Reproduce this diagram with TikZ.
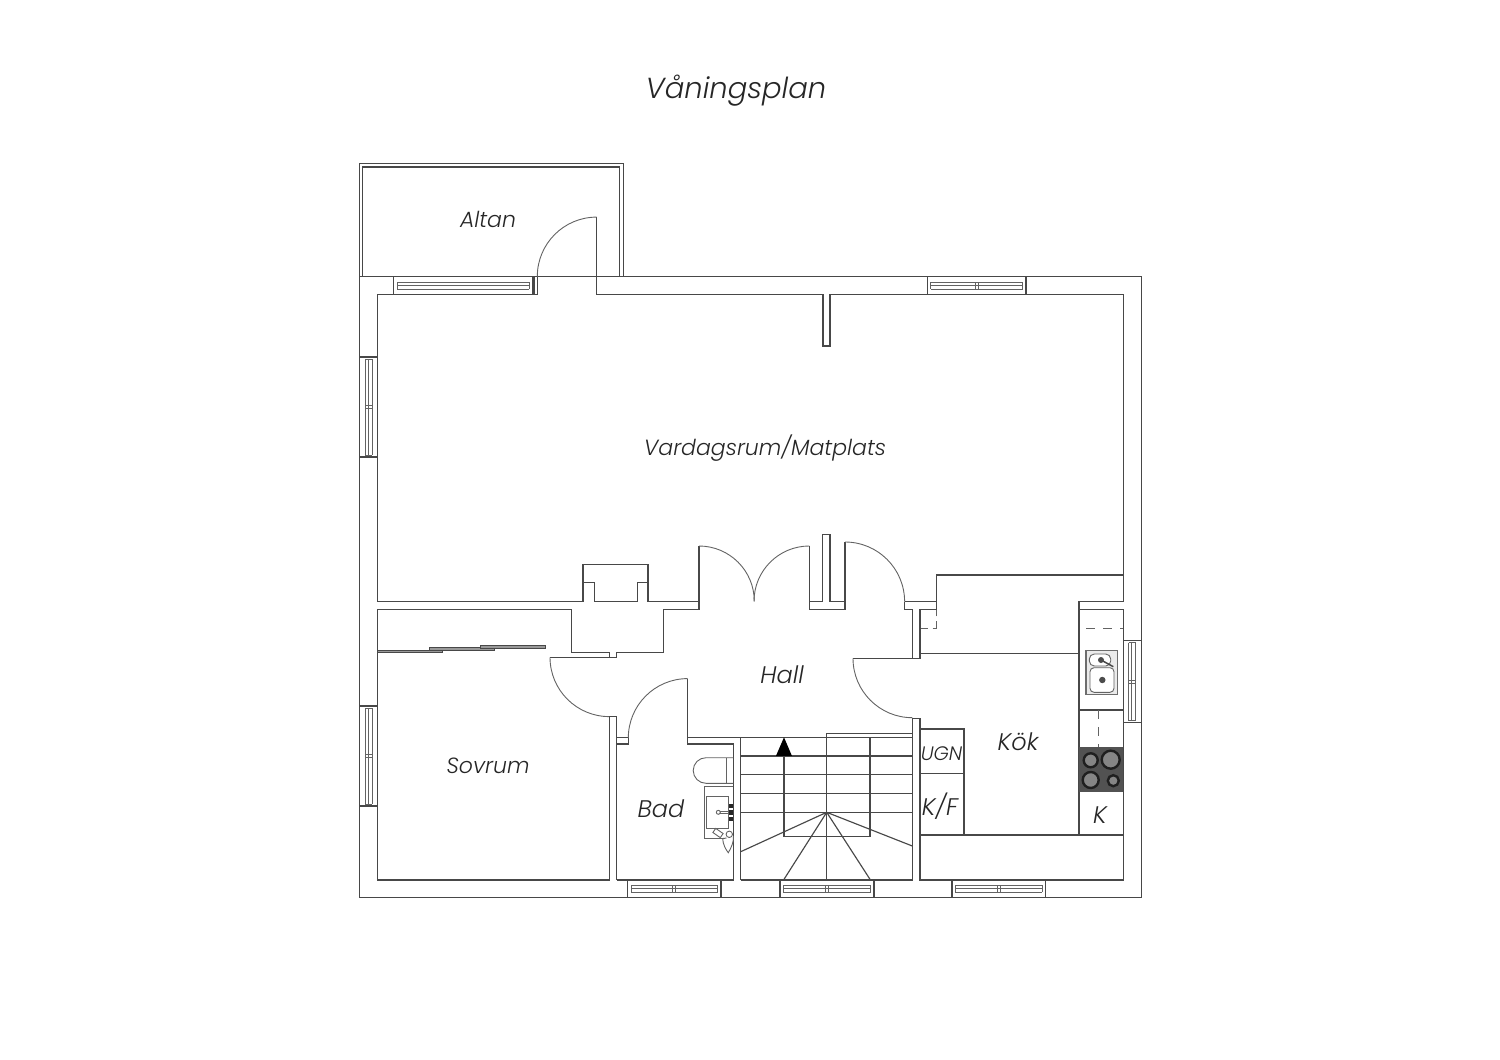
\documentclass[tikz,border=0pt]{standalone}
\usepackage{fontspec}
\newfontfamily\lbl[UprightFont=* Light Italic]{Poppins}
\newcommand{\hwinbody}[3]{% x1,x2,ytop
  \draw[wall] (#1,#3) -- (#1,#3+18) (#2,#3) -- (#2,#3+18);
  \draw[thin line] (#1+3.3,#3+5.5) -- (#2-3.3,#3+5.5) (#1+3.3,#3+8.5) -- (#2-3.3,#3+8.5) (#1+3.3,#3+12.5) -- (#2-3.3,#3+12.5)
    (#1+3.3,#3+5.5) -- (#1+3.3,#3+12.5) (#2-3.3,#3+5.5) -- (#2-3.3,#3+12.5);}
\newcommand{\hwindow}[3]{% x1,x2,ytop
  \hwinbody{#1}{#2}{#3}
  \draw[thin line] ({(#1+#2)/2-1.5},#3+5.5) -- ({(#1+#2)/2-1.5},#3+12.5) ({(#1+#2)/2+1.5},#3+5.5) -- ({(#1+#2)/2+1.5},#3+12.5);}
\newcommand{\vwindow}[4]{% xleft,y1,y2,xright
  \draw[wall] (#1,#2) -- (#4,#2) (#1,#3) -- (#4,#3);
  \draw[thin line] (#1+5.5,#2+2) -- (#1+5.5,#3-2) (#1+8.5,#2+2) -- (#1+8.5,#3-2) (#1+12.5,#2+2) -- (#1+12.5,#3-2)
    (#1+5.5,#2+2) -- (#1+12.5,#2+2) (#1+5.5,#3-2) -- (#1+12.5,#3-2)
    (#1+5.5,{(#2+#3)/2-1.5}) -- (#1+12.5,{(#2+#3)/2-1.5}) (#1+5.5,{(#2+#3)/2+1.5}) -- (#1+12.5,{(#2+#3)/2+1.5});}
\definecolor{ink}{HTML}{484848}
\tikzset{
  wall/.style={draw=ink,line width=1.15pt,line join=miter},
  thin line/.style={draw=ink!85,line width=0.9pt},
  dashline/.style={draw=ink!85,line width=0.9pt,dash pattern=on 9pt off 8pt},
  roomlabel/.style={font=\lbl\fontsize{24}{28}\selectfont,text=black!85},
  widelabel/.style={font=\lbl\fontsize{22}{26}\selectfont,text=black!85},
  smalllabel/.style={font=\lbl\fontsize{19.5}{24}\selectfont,text=black!85},
  slider/.style={draw=ink,fill=black!40,line width=0.9pt},
  burnerring/.style={draw=black!88,fill=black!48,line width=2.4pt},
  x=1pt,y=-1pt
}
\begin{document}
\begin{tikzpicture}
\useasboundingbox (0,0) rectangle (1500,1060);
% Altan
\draw[wall] (359.5,276.5) -- (359.5,163.5) -- (623.5,163.5) -- (623.5,276.5);
\draw[wall] (362.7,276.5) -- (362.7,167) -- (619.7,167) -- (619.7,276.5);
% outer walls
\draw[wall] (359.5,276.5) rectangle (1141.3,897.5);
% top/left inner, living room
\draw[wall] (537.3,276.5) -- (537.3,294.5) -- (377.3,294.5) -- (377.3,601.5) -- (583,601.5) -- (583,564.7) -- (648,564.7) -- (648,601.5) -- (699,601.5) -- (699,546);
\draw[wall] (534,276.5) -- (534,294.5);
\draw[wall] (583,582.7) -- (594.5,582.7) -- (594.5,601.5) -- (637.3,601.5) -- (637.3,582.7) -- (648,582.7);
\draw[wall] (596.7,217) -- (596.7,294.5) -- (823,294.5) -- (823,346) -- (830,346) -- (830,294.5) -- (1123.3,294.5) -- (1123.3,601.7);
\draw[thin line] (537.3,276.5) arc[start angle=180,end angle=270,radius=59.4];
% hall doors
\draw[thin line] (699,546) arc[start angle=270,end angle=360,radius=55.3];
\draw[thin line] (809.3,546) arc[start angle=270,end angle=180,radius=55.3];
\draw[wall] (809.3,546) -- (809.3,609.3) -- (845,609.3) -- (845,542);
\draw[wall] (809.3,601.5) -- (822.3,601.5) -- (822.3,534.3) -- (830,534.3) -- (830,601.5) -- (845,601.5);
\draw[thin line] (845,542) arc[start angle=270,end angle=360,radius=59.6];
\draw[wall] (904.5,601.6) -- (936.7,601.6) -- (936.7,575) -- (1123.3,575);
\draw[wall] (904.5,601.6) -- (904.5,609.3) -- (912.3,609.3) -- (912.3,658.3);
\draw[wall] (936.7,601.6) -- (936.7,609.3) -- (920,609.3) -- (920,653.3);
\draw[dashline,dash pattern=on 7pt off 5pt] (920.5,628.3) -- (936.7,628.3);
\draw[dashline,dash pattern=on 7pt off 5pt] (936.7,628.3) -- (936.7,610);
% bedroom / closet
\draw[wall] (377.3,880) -- (377.3,609.3) -- (571.3,609.3) -- (571.3,652.3) -- (609.3,652.3) -- (609.3,657.3) -- (616.7,657.3) -- (616.7,652.3) -- (663.3,652.3) -- (663.3,609.3) -- (699,609.3) -- (699,601.5);
\draw[slider] (377.3,650) rectangle (442.3,652.7);
\draw[slider] (429,647.3) rectangle (494.3,650.3);
\draw[slider] (480.7,645.3) rectangle (545.7,648.3);
\draw[wall] (550,657.3) -- (616.7,657.3);
\draw[thin line] (550,657.3) arc[start angle=180,end angle=90,radius=59.3];
\draw[wall] (609.3,716.6) -- (616.7,716.6) -- (616.7,880);
\draw[wall] (609.8,716.6) -- (609.8,880) -- (377.3,880);
% bathroom
\draw[wall] (616.7,737.3) -- (628.3,737.3) -- (628.3,744) -- (616.7,744);
\draw[thin line] (628.3,738) arc[start angle=180,end angle=270,radius=59.4];
\draw[wall] (687.7,678.6) -- (687.7,744) -- (733.3,744) -- (733.3,880) -- (616.7,880);
\draw[wall] (687.7,737.3) -- (912.7,737.3);
\draw[thin line] (733.3,757.7) -- (706,757.7) arc[start angle=270,end angle=90,radius=12.8] -- (733.3,783.3);
\draw[thin line] (726,757.7) -- (726,783.3);
\draw[thin line] (733.3,786.7) -- (704,786.7) -- (704,838.3) -- (725,838.3);
\draw[thin line] (706.7,796) rectangle (728.3,828.3);
\draw[thin line] (719.5,811) -- (731,811) (719.5,813.6) -- (731,813.6);
\draw[thin line,fill=white] (718.3,812.3) circle[radius=2];
\fill[black!85] (729,804) rectangle (733,807.5);
\fill[black!85] (729,809.5) rectangle (733,815);
\fill[black!85] (729,817) rectangle (733,820.5);
\draw[thin line,rotate around={-35:(718,833)}] (713.5,830.5) rectangle (722.5,835.5);
\draw[thin line] (726.5,838) -- (722.7,838.5) .. controls (722.7,844) and (726,850) .. (728.3,852.7) .. controls (731,848) and (734,842) .. (733.5,836);
\draw[thin line] (729.3,834.3) circle[radius=3.2];
% stairs
\draw[wall] (740.7,880) -- (740.7,737.3);
\draw[wall] (740.7,880) -- (912.5,880);
\draw[wall] (740.7,756) -- (912.3,756) (740.7,774.3) -- (912.3,774.3) (740.7,793.7) -- (912.3,793.7) (740.7,812.3) -- (912.3,812.3);
\draw[wall] (784,755) -- (784,836.7) -- (870,836.7) -- (870,737.3);
\draw[wall] (826.7,880) -- (826.7,733.3) -- (912.3,733.3);
\draw[wall] (826.7,812.3) -- (740.7,851.7) (826.7,812.3) -- (912.3,846) (826.7,812.3) -- (784,879.3) (826.7,812.3) -- (870,879.3);
\fill[black] (784,737.3) -- (791.9,755.8) -- (776,755.8) -- cycle;
% kitchen walls
\draw[wall] (912.3,718.3) -- (912.3,880);
\draw[wall] (912.3,718.3) -- (920,718.3) -- (920,880) -- (1123.3,880) -- (1123.3,609.3) -- (1079,609.3);
\draw[wall] (853,658.3) -- (920,658.3) -- (920,653.3) -- (1079,653.3);
\draw[thin line] (853,658.3) arc[start angle=180,end angle=90,radius=59.4];
\draw[wall] (1123.3,601.7) -- (1079,601.7) -- (1079,835);
\draw[wall] (920,835) -- (1123.3,835);
\draw[wall] (920,729) -- (964,729) -- (964,835) (920,773.3) -- (964,773.3);
\draw[wall] (1079,710) -- (1123.3,710);
\draw[dashline] (1086,628.3) -- (1123.3,628.3);
\draw[dashline] (1098,710) -- (1098,747);
% sink
\draw[draw=ink!80,fill=black!8,line width=1.5pt] (1086,650.7) rectangle (1117.7,694.3);
\draw[thin line,fill=white,rounded corners=5pt] (1089.3,654) rectangle (1110.7,666);
\draw[thin line,fill=white,rounded corners=4pt] (1090,667.7) rectangle (1114,692.3);
\draw[ink,line width=1.5pt] (1101,660) -- (1113.3,666.7);
\fill[black!70] (1101,660) circle[radius=3];
\fill[black!70] (1102.3,680) circle[radius=3.2];
% hob
\fill[black!68] (1079,747.3) rectangle (1123.3,791.7);
\draw[burnerring] (1090.7,760.3) circle[radius=7];
\draw[burnerring] (1110.7,759.7) circle[radius=9];
\draw[burnerring] (1090.7,780) circle[radius=8];
\draw[burnerring] (1113.3,780.7) circle[radius=5.5];
% windows
\hwinbody{393.7}{532.7}{276.5}
\hwindow{927.5}{1026}{276.5}
\hwindow{627.7}{721}{879.5}
\hwindow{780}{874}{879.5}
\hwindow{952}{1045.7}{879.5}
\vwindow{359.5}{357}{457}{377.3}
\vwindow{359.5}{706}{806}{377.3}
\vwindow{1123.3}{640.5}{722.5}{1141.3}
% labels
\node[font=\lbl\fontsize{29}{34}\selectfont,text=black!85] (title) at (736,91) {Våningsplan};
\node[widelabel] (altan) at (488,219.5) {Altan};
\node[widelabel] (vardag) at (765,448) {Vardagsrum/Matplats};
\node[roomlabel] (hall) at (782,675) {Hall};
\node[widelabel] (sovrum) at (488,766) {Sovrum};
\node[roomlabel] (bad) at (661,809) {Bad};
\node[roomlabel] (kok) at (1018,742) {Kök};
\node[smalllabel] (ugn) at (941.5,753.5) {UGN};
\node[roomlabel] (kf) at (940,806) {K/F};
\node[roomlabel] (k) at (1100,815) {K};
\end{tikzpicture}
\end{document}
